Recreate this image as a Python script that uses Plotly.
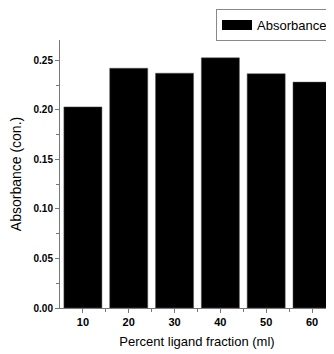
import plotly.graph_objects as go

categories = [10, 20, 30, 40, 50, 60]
absorbance = [0.203, 0.242, 0.237, 0.2525, 0.2365, 0.228]
y_ticks = [0.00, 0.05, 0.10, 0.15, 0.20, 0.25]
y_tick_labels = ["0.00", "0.05", "0.10", "0.15", "0.20", "0.25"]

font_family = "Liberation Sans Narrow, Liberation Sans, Arial, sans-serif"

fig = go.Figure()
fig.add_trace(go.Bar(
    x=categories, y=absorbance, name="Absorbance",
    marker=dict(color="black", line=dict(color="#555555", width=0.5)),
    showlegend=False,
))
# legend entry drawn as a wide black swatch like the original
fig.add_trace(go.Scatter(
    x=[None], y=[None], mode="lines", name="Absorbance",
    line=dict(color="black", width=11),
    showlegend=True,
))

# the page body has an 8px margin, so the figure is sized to the visible area
fig.update_layout(
    width=326, height=346,
    margin=dict(l=52, r=0, t=32, b=46, autoexpand=False),
    paper_bgcolor="white", plot_bgcolor="white",
    bargap=0.17,
    font=dict(family=font_family, color="black"),
    showlegend=True,
    legend=dict(
        xref="container", yref="container",
        x=0.997, y=0.997, xanchor="right", yanchor="top",
        bordercolor="#888888", borderwidth=1,
        font=dict(size=13, family=font_family),
        tracegroupgap=0, itemwidth=30,
    ),
    xaxis=dict(
        range=[5, 64.8],
        tickvals=categories, ticktext=[str(c) for c in categories],
        ticks="outside", ticklen=4, tickcolor="#777777",
        showline=True, linecolor="#777777", linewidth=1,
        showgrid=False, zeroline=False,
        tickfont=dict(size=11, family=font_family, weight="bold"),
        minor=dict(tickvals=[15, 25, 35, 45, 55], ticks="outside", ticklen=3, tickcolor="#777777"),
        title=dict(text="Percent ligand fraction (ml)", font=dict(size=13, family=font_family), standoff=9),
    ),
    yaxis=dict(
        range=[0, 0.2705],
        tickvals=y_ticks, ticktext=y_tick_labels,
        ticks="outside", ticklen=4, tickcolor="#777777",
        showline=True, linecolor="#777777", linewidth=1,
        showgrid=False, zeroline=False,
        tickfont=dict(size=10, family=font_family, weight="bold"),
        minor=dict(dtick=0.025, tick0=0, ticks="outside", ticklen=3, tickcolor="#777777"),
        title=dict(text="Absorbance (con.)", font=dict(size=14, family=font_family), standoff=8),
    ),
)

fig.write_html("out.html")
